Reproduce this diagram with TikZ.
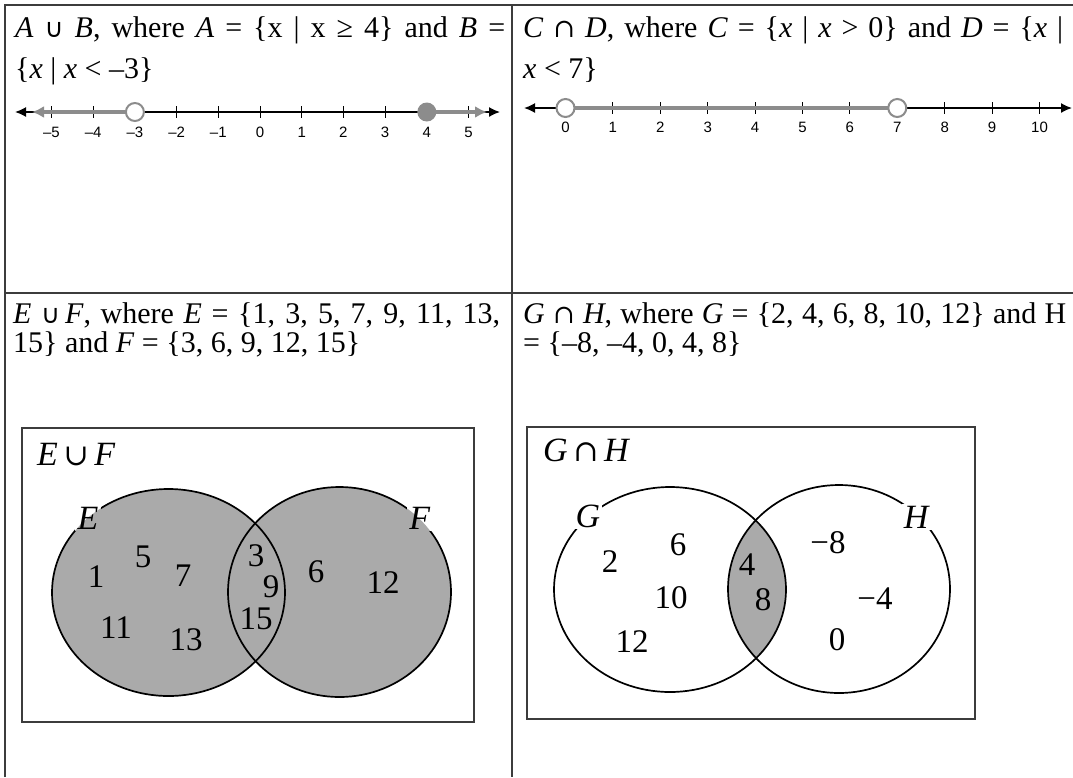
\documentclass[tikz,border=0pt]{standalone}
\usepackage{fontspec}
\setmainfont{Liberation Serif}
\newfontfamily\nlfont{Liberation Sans}
\newfontfamily\symsans{DejaVu Sans}
\newfontfamily\symserif{DejaVu Serif}
\usetikzlibrary{arrows.meta}
\definecolor{nlg}{RGB}{140,140,140}
\definecolor{vg}{RGB}{170,170,170}
\definecolor{gridc}{RGB}{60,60,60}
\tikzset{
  gridline/.style={line width=1.5pt, draw=gridc},
  nlblack/.style={line width=1.6pt, draw=black},
  nlgray/.style={line width=4.5pt, draw=nlg},
  ticksty/.style={line width=1pt, draw=black},
  nlabel/.style={font=\nlfont\fontsize{15}{17}\selectfont, inner sep=0pt},
  head/.style={font=\fontsize{30}{33}\selectfont, anchor=base west, inner sep=0pt},
  vbox/.style={line width=1.5pt, draw=gridc},
  vline/.style={line width=1.7pt, draw=black},
  vnum/.style={font=\fontsize{33}{36}\selectfont, inner sep=0pt},
  vlab/.style={font=\fontsize{34}{37}\selectfont, inner sep=2pt},
  blk/.tip={Latex[length=11pt,width=10pt]},
  gry/.tip={Latex[length=12pt,width=12pt]}
}
\newcommand{\hcup}{{\symsans\fontsize{26}{30}\selectfont ∪}}
\newcommand{\hcap}{{\symserif\fontsize{26}{30}\selectfont ∩}}
\newcommand{\vcup}{{\symserif\fontsize{30}{34}\selectfont ∪}}
\newcommand{\vcap}{{\symserif\fontsize{30}{34}\selectfont ∩}}
\begin{document}
\begin{tikzpicture}[x=1pt,y=-1pt]
\useasboundingbox (0,0) rectangle (1073,777);
% table grid
\draw[gridline] (5,777) -- (5,5) -- (1073,5);
\draw[gridline] (5,293) -- (1073,293);
\draw[gridline] (512,5) -- (512,777);

% header texts
\node[head] (tl1) at (15,37) {\makebox[490pt][s]{\textit{A} \hcup{} \textit{B}, where \textit{A} = \{x | x ≥ 4\} and \textit{B} =}};
\node[head] (tl2) at (15,78) {\{\textit{x} | \textit{x} < –3\}};
\node[head] (tr1) at (523,37) {\makebox[540pt][s]{\textit{C} \hcap{} \textit{D}, where \textit{C} = \{\textit{x} | \textit{x} > 0\} and \textit{D} = \{\textit{x} |}};
\node[head] (tr2) at (523,78) {\textit{x} < 7\}};
\node[head] (bl1) at (13,323) {\makebox[487pt][s]{\textit{E} \hcup{}\,\textit{F}, where \textit{E} = \{1, 3, 5, 7, 9, 11, 13,}};
\node[head] (bl2) at (13,352) {15\} and \textit{F} = \{3, 6, 9, 12, 15\}};
\node[head] (br1) at (523,323) {\makebox[543pt][s]{\textit{G} \hcap{} \textit{H}, where \textit{G} = \{2, 4, 6, 8, 10, 12\} and H}};
\node[head] (br2) at (523,352) {= \{–8, –4, 0, 4, 8\}};

% number line A u B
\coordinate (la) at (15,112);
\coordinate (ra) at (500,112);
\draw[nlblack, blk-blk] (la) -- (ra);
\foreach \n/\t in {-5/–5,-4/–4,-3/–3,-2/–2,-1/–1,0/0,1/1,2/2,3/3,4/4,5/5} {
  \draw[ticksty] ({260+41.7*\n},106) -- ({260+41.7*\n},118);
  \node[nlabel] (lab\n) at ({260+41.7*\n},132) {\t};
}
\coordinate (m3) at ({260-3*41.7},112);
\coordinate (p4) at ({260+4*41.7},112);
\coordinate (lg) at (32,112);
\coordinate (rg) at (487,112);
\draw[nlgray, -gry] (m3) -- (lg);
\draw[nlgray, -gry] (p4) -- (rg);
\draw[line width=2pt, draw=nlg, fill=white] (m3) circle[radius=9pt];
\fill[nlg] (p4) circle[radius=9.5pt];

% number line C n D
\coordinate (la2) at (524,108);
\coordinate (ra2) at (1072,108);
\draw[nlblack, blk-blk] (la2) -- (ra2);
\foreach \n in {0,...,10} {
  \draw[ticksty] ({565.5+47.4*\n},102) -- ({565.5+47.4*\n},114);
  \node[nlabel] (labr\n) at ({565.5+47.4*\n},127) {\n};
}
\coordinate (z0) at (565.5,108);
\coordinate (z7) at ({565.5+7*47.4},108);
\draw[nlgray] (z0) -- (z7);
\draw[line width=2pt, draw=nlg, fill=white] (z0) circle[radius=9pt];
\draw[line width=2pt, draw=nlg, fill=white] (z7) circle[radius=9pt];

% Venn E u F
\draw[vbox] (22,428) rectangle (474,722);
\node[vlab, anchor=west, inner sep=0pt] (eflab) at (37,455) {\textit{E}\,\vcup\,\textit{F}};
\fill[vg] (168.5,592.5) ellipse[x radius=116.5pt, y radius=103.5pt];
\fill[vg] (339.5,592) ellipse[x radius=111.5pt, y radius=105pt];
\draw[vline] (168.5,592.5) ellipse[x radius=116.5pt, y radius=103.5pt];
\draw[vline] (339.5,592) ellipse[x radius=111.5pt, y radius=105pt];
\node[vlab, text opacity=0] (elab) at (88,518) {\textit{E}};
\node[vlab, text opacity=0] (flab) at (420,518) {\textit{F}};
\fill[white] (elab.south west) rectangle (elab.north east);
\fill[white] (flab.south west) rectangle (flab.north east);
\begin{scope}
  \clip (168.5,592.5) ellipse[x radius=116.5pt, y radius=103.5pt];
  \fill[vg] (elab.south west) rectangle (elab.north east);
\end{scope}
\begin{scope}
  \clip (339.5,592) ellipse[x radius=111.5pt, y radius=105pt];
  \fill[vg] (flab.south west) rectangle (flab.north east);
\end{scope}
\node[vlab] at (elab) {\textit{E}};
\node[vlab] at (flab) {\textit{F}};
\node[vnum] (e1) at (96,577) {1};
\node[vnum] (e5) at (143,557) {5};
\node[vnum] (e7) at (183,576) {7};
\node[vnum] (e11) at (116,628) {11};
\node[vnum] (e13) at (186,640) {13};
\node[vnum] (e3) at (256,556) {3};
\node[vnum] (e9) at (271,587) {9};
\node[vnum] (e15) at (256,619) {15};
\node[vnum] (f6) at (316,572) {6};
\node[vnum] (f12) at (383,583) {12};

% Venn G n H
\draw[vbox] (527,427) rectangle (975,719);
\node[vlab, anchor=west, inner sep=0pt] (ghlab) at (543,450) {\textit{G}\,\vcap\,\textit{H}};
\begin{scope}
  \clip (670,589.5) ellipse[x radius=116pt, y radius=102.5pt];
  \fill[vg] (839,589) ellipse[x radius=111pt, y radius=104pt];
\end{scope}
\draw[vline] (670,589.5) ellipse[x radius=116pt, y radius=102.5pt];
\draw[vline] (839,589) ellipse[x radius=111pt, y radius=104pt];
\node[vlab, fill=white] (glab) at (588,516) {\textit{G}};
\node[vlab, fill=white] (hlab) at (917,517) {\textit{H}};
\node[vnum] (g2) at (610,562) {2};
\node[vnum] (g6) at (678,545) {6};
\node[vnum] (g10) at (671,598) {10};
\node[vnum] (g12) at (632,642) {12};
\node[vnum] (g4) at (747,565) {4};
\node[vnum] (g8) at (763,600) {8};
\node[vnum] (h8) at (828,543) {−8};
\node[vnum] (h4) at (875,599) {−4};
\node[vnum] (h0) at (837,640) {0};
\end{tikzpicture}
\end{document}
